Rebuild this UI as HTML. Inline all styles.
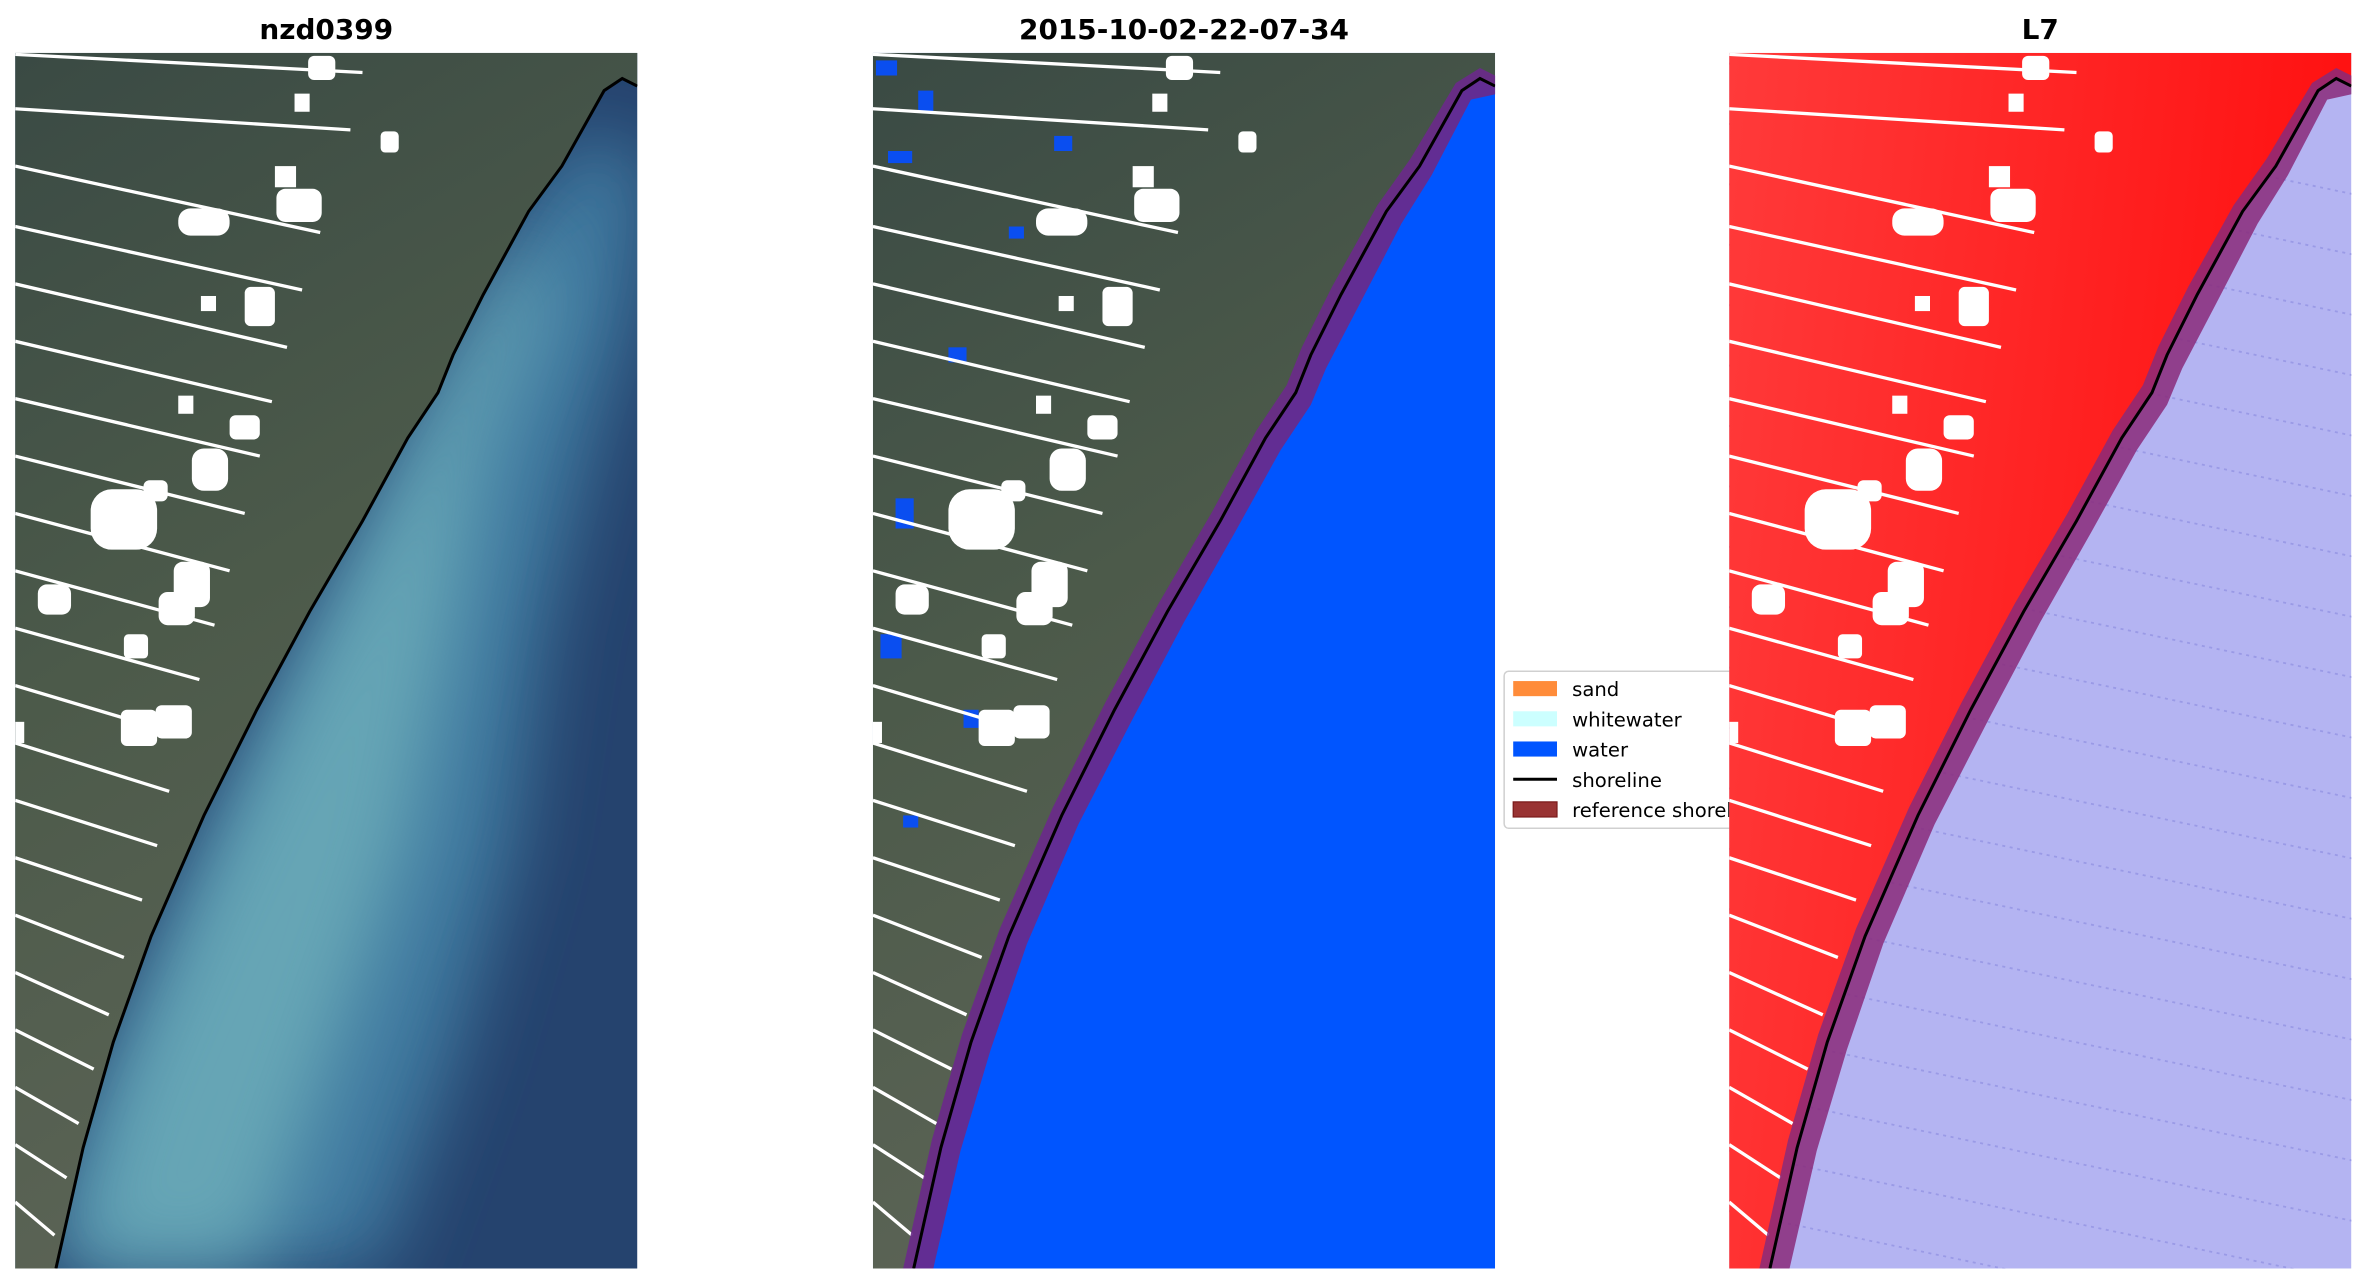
<!DOCTYPE html>
<html><head><meta charset="utf-8"><style>
html,body{margin:0;padding:0;background:#fff;}
svg{display:block;}
</style></head><body>
<svg width="2368" height="1283" viewBox="0 0 1568 849.6" xmlns="http://www.w3.org/2000/svg" font-family="DejaVu Sans, Liberation Sans, sans-serif">
<defs>
<clipPath id="pc"><rect x="10" y="35" width="412" height="805"/></clipPath>
<filter id="bl" x="-20%" y="-20%" width="140%" height="140%"><feGaussianBlur stdDeviation="25"/></filter>
<linearGradient id="land1" x1="0" y1="0" x2="0.3" y2="1">
<stop offset="0" stop-color="#3a4a44"/><stop offset="0.5" stop-color="#4c5a4a"/><stop offset="1" stop-color="#5c6456"/></linearGradient>
<linearGradient id="land3" x1="0" y1="0" x2="1" y2="0.2">
<stop offset="0" stop-color="#ff3a3a"/><stop offset="1" stop-color="#ff1010"/></linearGradient>
<g id="stripes" stroke="#fff" stroke-width="2.2" fill="none">
<path d="M10,36 L240,48 M10,72 L232,86 M10,110 L212,154 M10,150 L200,192 M10,188 L190,230 M10,226 L180,266 M10,264 L172,302 M10,302 L162,340 M10,340 L152,378 M10,378 L142,414 M10,416 L132,450 M10,454 L124,488 M10,492 L112,524 M10,530 L104,560 M10,568 L94,596 M10,606 L82,634 M10,644 L72,672 M10,682 L62,708 M10,720 L52,744 M10,758 L44,780 M10,796 L36,818"/>
</g>
<g id="blobs" fill="#fff">
<rect x="204" y="37" width="18" height="16" rx="4"/><rect x="195" y="62" width="10" height="12"/>
<rect x="252" y="87" width="12" height="14" rx="3"/><rect x="182" y="110" width="14" height="14"/>
<rect x="183" y="125" width="30" height="22" rx="6"/><rect x="118" y="138" width="34" height="18" rx="8"/>
<rect x="133" y="196" width="10" height="10"/><rect x="162" y="190" width="20" height="26" rx="4"/>
<rect x="118" y="262" width="10" height="12"/><rect x="152" y="275" width="20" height="16" rx="4"/>
<rect x="127" y="297" width="24" height="28" rx="8"/><rect x="60" y="324" width="44" height="40" rx="14"/>
<rect x="95" y="318" width="16" height="14" rx="4"/><rect x="115" y="372" width="24" height="30" rx="6"/>
<rect x="25" y="387" width="22" height="20" rx="6"/><rect x="105" y="392" width="24" height="22" rx="6"/>
<rect x="82" y="420" width="16" height="16" rx="3"/><rect x="80" y="470" width="24" height="24" rx="4"/>
<rect x="103" y="467" width="24" height="22" rx="4"/><rect x="10" y="478" width="6" height="14"/>
</g>
</defs>

<!-- titles -->
<g font-weight="bold" font-size="18.5" text-anchor="middle" fill="#000">
<text x="216" y="26">nzd0399</text>
<text x="784" y="26">2015-10-02-22-07-34</text>
<text x="1351" y="26">L7</text>
</g>

<!-- Panel 1 -->
<g clip-path="url(#pc)">
<rect x="10" y="35" width="412" height="805" fill="#25436e"/>
<path d="M380,90 L330,170 L280,270 L230,370 L170,490 L110,620 L50,760 L30,840 L250,840 L300,700 L340,560 L360,420 L390,300 L420,200 L430,100Z" fill="#3f7aa0" filter="url(#bl)"/>
<path d="M350,150 L300,240 L250,340 L190,460 L130,590 L75,720 L40,840 L170,840 L220,700 L270,560 L300,420 L320,300 L360,200Z" fill="#6aaab8" filter="url(#bl)" opacity="0.9"/>
<path d="M10,35 L422,35 L422,57 L412,52 L400,60 L372,110 L350,140 L320,195 L300,235 L290,260 L270,290 L240,345 L205,405 L170,470 L135,540 L100,620 L75,690 L55,760 L37,840 L10,840Z" fill="url(#land1)"/>
<use href="#stripes"/><use href="#blobs"/>
<path d="M422,57 L412,52 L400,60 L372,110 L350,140 L320,195 L300,235 L290,260 L270,290 L240,345 L205,405 L170,470 L135,540 L100,620 L75,690 L55,760 L37,840" fill="none" stroke="#000" stroke-width="2"/>
</g>

<!-- Panel 2 -->
<g transform="translate(568,0)">
<g clip-path="url(#pc)">
<rect x="10" y="35" width="412" height="805" fill="#0055ff"/>
<path d="M10,35 L422,35 L422,57 L412,52 L400,60 L372,110 L350,140 L320,195 L300,235 L290,260 L270,290 L240,345 L205,405 L170,470 L135,540 L100,620 L75,690 L55,760 L37,840 L10,840Z" fill="url(#land1)"/>
<g fill="#0a4ef0"><rect x="12" y="40" width="14" height="10"/><rect x="40" y="60" width="10" height="14"/><rect x="20" y="100" width="16" height="8"/><rect x="60" y="230" width="12" height="10"/><rect x="25" y="330" width="12" height="20"/><rect x="15" y="420" width="14" height="16"/><rect x="70" y="470" width="10" height="12"/><rect x="30" y="540" width="10" height="8"/><rect x="100" y="150" width="10" height="8"/><rect x="130" y="90" width="12" height="10"/></g>
<use href="#stripes"/><use href="#blobs"/>
<path d="M426,52 L412,45 L396,55 L366,105 L344,136 L314,190 L294,230 L284,255 L264,285 L234,340 L199,400 L164,465 L129,535 L94,615 L69,685 L49,755 L30,840 L50,840 L68,762 L88,695 L112,625 L146,546 L182,476 L216,412 L250,352 L280,298 L300,268 L310,244 L332,202 L360,148 L380,116 L406,66 L424,62Z" fill="#6a2a8a" opacity="0.92"/>
<path d="M422,57 L412,52 L400,60 L372,110 L350,140 L320,195 L300,235 L290,260 L270,290 L240,345 L205,405 L170,470 L135,540 L100,620 L75,690 L55,760 L37,840" fill="none" stroke="#000" stroke-width="2"/>
</g>
</g>

<!-- Legend -->
<g>
<rect x="996" y="444.5" width="156" height="104" rx="3" fill="#fff" fill-opacity="0.85" stroke="#d0d0d0" stroke-width="1"/>
<rect x="1002" y="451" width="29" height="10" fill="#ff8c3a"/>
<rect x="1002" y="471" width="29" height="10" fill="#ccffff"/>
<rect x="1002" y="491" width="29" height="10" fill="#0055ff"/>
<line x1="1002" y1="516" x2="1031" y2="516" stroke="#000" stroke-width="2"/>
<rect x="1002" y="531" width="29" height="10" fill="#993333" stroke="#7a1a1a" stroke-width="0.8"/>
<g font-size="13" fill="#000">
<text x="1041" y="461">sand</text>
<text x="1041" y="481">whitewater</text>
<text x="1041" y="501">water</text>
<text x="1041" y="521">shoreline</text>
<text x="1041" y="541">reference shoreline</text>
</g>
</g>

<!-- Panel 3 -->
<g transform="translate(1135,0)">
<g clip-path="url(#pc)">
<rect x="10" y="35" width="412" height="805" fill="#b4b4f2"/>
<g stroke="#9a9ae6" stroke-width="1.2" stroke-dasharray="2 3">
<path d="M0,40 L430,130 M0,80 L430,170 M0,120 L430,210 M0,160 L430,250 M0,200 L430,290 M0,240 L430,330 M0,280 L430,370 M0,320 L430,410 M0,360 L430,450 M0,400 L430,490 M0,440 L430,530 M0,480 L430,570 M0,520 L430,610 M0,560 L430,650 M0,600 L430,690 M0,640 L430,730 M0,680 L430,770 M0,720 L430,810 M0,760 L430,850 M0,800 L430,890"/>
</g>
<path d="M10,35 L422,35 L422,57 L412,52 L400,60 L372,110 L350,140 L320,195 L300,235 L290,260 L270,290 L240,345 L205,405 L170,470 L135,540 L100,620 L75,690 L55,760 L37,840 L10,840Z" fill="url(#land3)"/>
<use href="#stripes"/><use href="#blobs"/>
<path d="M426,52 L412,45 L396,55 L366,105 L344,136 L314,190 L294,230 L284,255 L264,285 L234,340 L199,400 L164,465 L129,535 L94,615 L69,685 L49,755 L30,840 L50,840 L68,762 L88,695 L112,625 L146,546 L182,476 L216,412 L250,352 L280,298 L300,268 L310,244 L332,202 L360,148 L380,116 L406,66 L424,62Z" fill="#8a2a7a" opacity="0.85"/>
<path d="M422,57 L412,52 L400,60 L372,110 L350,140 L320,195 L300,235 L290,260 L270,290 L240,345 L205,405 L170,470 L135,540 L100,620 L75,690 L55,760 L37,840" fill="none" stroke="#000" stroke-width="2"/>
</g>
</g>
</svg>
</body></html>
